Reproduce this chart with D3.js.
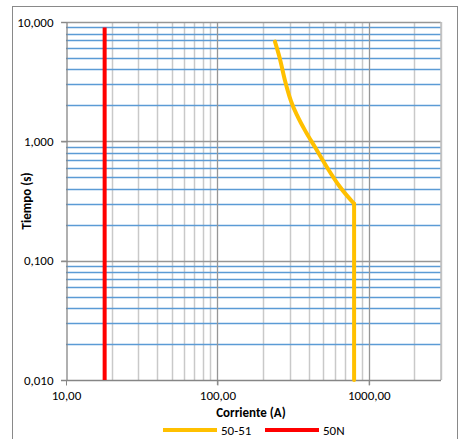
<!DOCTYPE html>
<html>
<head>
<meta charset="utf-8">
<script src="https://cdn.jsdelivr.net/npm/d3@7"></script>
<style>
  body { margin: 0; background: #fff; }
  svg text { font-family: Carlito, Calibri, Lato, "Open Sans", sans-serif; fill: #000; }
</style>
</head>
<body>
<div id="chart"></div>
<script>
// valores
let curve5051_I = [240, 258, 279, 306, 340, 384, 440, 528, 644, 800, 800];
let curve5051_T = [6.85, 5, 3.27, 2.18, 1.6, 1.2, 0.9, 0.61, 0.416, 0.3, 0.01];
let curve50N_I = [18, 18];
let curve50N_T = [9, 0.01];
let xTickVals = [10, 100, 1000];
let xTickLabels = ['10,00', '100,00', '1000,00'];
let yTickVals = [0.01, 0.1, 1, 10];
let yTickLabels = ['0,010', '0,100', '1,000', '10,000'];
let seriesNames = ['50-51', '50N'];
let seriesColors = ['#ffc000', '#ff0000'];

let width = 470;
let height = 439;
let m = {left: 66, right: 29, top: 22, bottom: 59};
let fs = 13;

let svg = d3.select('#chart').append('svg')
            .attr('width', width)
            .attr('height', height);

// marco exterior
svg.append('rect')
    .attr('x', 12.5).attr('y', 6.5)
    .attr('width', 445).attr('height', 440)
    .attr('fill', 'none').attr('stroke', '#898989');

let x = d3.scaleLog()
            .domain([10, 3000])
            .range([m.left, width - m.right]);
let y = d3.scaleLog()
            .domain([0.01, 10])
            .range([height - m.bottom, m.top]);

// valores menores de la grilla
let minorX = [];
[10, 100, 1000].forEach(d => {
    for (let k = 2; k <= 9; k++) if (d * k <= 3000) minorX.push(d * k);
});
let minorY = [];
[0.01, 0.1, 1].forEach(d => {
    for (let k = 2; k <= 9; k++) minorY.push(d * k);
});

let grid = svg.append('g');
grid.selectAll('.vmin').data(minorX).join('line')
    .attr('x1', d => Math.round(x(d)) + 0.5).attr('x2', d => Math.round(x(d)) + 0.5)
    .attr('y1', y(10)).attr('y2', y(0.01))
    .attr('stroke', '#c9c9c9').attr('stroke-width', 1.5);
grid.selectAll('.hmin').data(minorY).join('line')
    .attr('y1', d => Math.round(y(d)) + 0.5).attr('y2', d => Math.round(y(d)) + 0.5)
    .attr('x1', x(10)).attr('x2', x(3000))
    .attr('stroke', '#5b9bd5').attr('stroke-width', 1.3);
grid.selectAll('.vmaj').data([100, 1000]).join('line')
    .attr('x1', d => Math.round(x(d)) + 0.5).attr('x2', d => Math.round(x(d)) + 0.5)
    .attr('y1', y(10)).attr('y2', y(0.01) + 5)
    .attr('stroke', '#969696').attr('stroke-width', 1.3);
grid.selectAll('.hmaj').data([0.1, 1, 10]).join('line')
    .attr('y1', d => Math.round(y(d)) + 0.5).attr('y2', d => Math.round(y(d)) + 0.5)
    .attr('x1', x(10) - 5).attr('x2', x(3000))
    .attr('stroke', '#969696').attr('stroke-width', 1.3);
// borde derecho
grid.append('line')
    .attr('x1', x(3000)).attr('x2', x(3000))
    .attr('y1', y(10)).attr('y2', y(0.01))
    .attr('stroke', '#bfbfbf').attr('stroke-width', 1.5);

// ejes
let xAxis = svg.append('g')
    .attr('transform', `translate(0,${Math.round(y(0.01)) + 0.5})`)
    .call(d3.axisBottom(x).tickValues(xTickVals)
            .tickFormat((d, i) => xTickLabels[i]).tickSize(5).tickSizeOuter(0));
let yAxis = svg.append('g')
    .attr('transform', `translate(${Math.round(x(10)) + 0.5},0)`)
    .call(d3.axisLeft(y).tickValues(yTickVals)
            .tickFormat((d, i) => yTickLabels[i]).tickSize(5).tickSizeOuter(0));
[xAxis, yAxis].forEach(a => {
    a.attr('font-size', null).attr('font-family', null);
    a.select('.domain').attr('stroke', '#868686').attr('stroke-width', 1.3);
    a.selectAll('.tick line').attr('stroke', '#868686');
    a.selectAll('.tick text').style('font-size', fs + 'px');
});
xAxis.selectAll('.tick text').attr('dy', '0.86em');
yAxis.selectAll('.tick text').attr('x', -13);
xAxis.select('.domain').attr('d', `M${x(10) - 5},0H${x(3000)}`);

// curvas: tramo curvo suave + tramo vertical
let smooth = d3.line().x(d => x(d[0])).y(d => y(d[1])).curve(d3.curveMonotoneX);
let straight = d3.line().x(d => x(d[0])).y(d => y(d[1]));
let pts5051 = d3.zip(curve5051_I, curve5051_T);
let n = pts5051.length;
let segs = [
    {d: smooth(pts5051.slice(0, n - 1)), c: seriesColors[0]},
    {d: straight(pts5051.slice(n - 2)), c: seriesColors[0]},
    {d: straight(d3.zip(curve50N_I, curve50N_T)), c: seriesColors[1]}
];
svg.selectAll('.curve').data(segs).join('path')
    .attr('d', d => d.d)
    .attr('fill', 'none')
    .attr('stroke', d => d.c)
    .attr('stroke-width', 4)
    .attr('stroke-linejoin', 'round')
    .attr('stroke-linecap', (d, i) => i === 2 ? 'butt' : 'round');

// titulos
svg.append('text')
    .attr('x', 251).attr('y', 417)
    .attr('text-anchor', 'middle')
    .style('font-size', fs + 'px').attr('font-weight', 'bold')
    .text('Corriente (A)');
svg.append('text')
    .attr('transform', 'translate(31,201) rotate(-90)')
    .attr('text-anchor', 'middle')
    .style('font-size', fs + 'px').attr('font-weight', 'bold')
    .text('Tiempo (s)');

// leyenda
let legX = [163, 265];
let leg = svg.selectAll('.leg').data(seriesNames).join('g')
    .attr('transform', (d, i) => `translate(${legX[i]},430)`);
leg.append('line')
    .attr('x1', 0).attr('x2', 54)
    .attr('stroke', (d, i) => seriesColors[i]).attr('stroke-width', 4);
leg.append('text')
    .attr('x', 58).attr('y', 4.5)
    .style('font-size', fs + 'px')
    .text(d => d);
</script>
</body>
</html>
